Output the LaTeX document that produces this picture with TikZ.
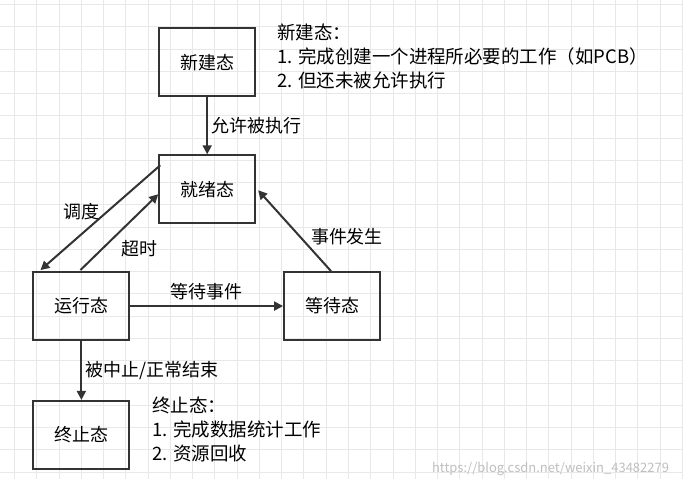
\documentclass[tikz,border=0pt]{standalone}
\usepackage{fontspec}
\setmainfont{Noto Sans CJK SC}
\usetikzlibrary{arrows.meta}
\begin{document}
\begin{tikzpicture}[x=1pt,y=-1pt,
  st/.style={draw=black!80,line width=2pt,minimum width=96pt,minimum height=68pt,font=\fontsize{18}{20}\selectfont},
  ar/.style={draw=black!80,line width=2pt,-{Triangle[length=9pt,width=9pt]}},
  lb/.style={font=\fontsize{18}{20}\selectfont,inner sep=1pt},
  nt/.style={font=\fontsize{18.5}{24}\selectfont,align=left,anchor=north west,inner sep=0pt}]
\fill[white] (0,0) rectangle (683,479);
\draw[black!9,line width=1pt,step=22.3pt,xshift=14pt,yshift=4pt] (-14,-4) grid (669,475);
\useasboundingbox (0,0) rectangle (683,479);
\node[st] (new) at (207,54) {新建态};
\node[st] (ready) at (207,181) {就绪态};
\node[st] (run) at (81,298) {运行态};
\node[st] (wait) at (332,298) {等待态};
\node[st] (end) at (81,427) {终止态};
\draw[ar] (new) -- (ready) node[lb,midway,right=2pt] {允许被执行};
\coordinate (a1) at (160,157);
\coordinate (a2) at (40,262);
\coordinate (b1) at (80,262);
\coordinate (b2) at (158,186);
\draw[ar] (a1) -- (a2);
\draw[ar] (b1) -- (b2);
\node[lb] (l1) at (81,203) {调度};
\node[lb] (l2) at (139,241) {超时};
\draw[ar] (run) -- (wait) node[lb,midway,above=4pt] {等待事件};
\coordinate (c1) at (331,263);
\coordinate (c2) at (258,182);
\draw[ar] (c1) -- (c2);
\node[lb] (l3) at (347,229) {事件发生};
\draw[ar] (run) -- (end) node[lb,midway,right=2pt] {被中止/正常结束};
\node[nt] (n1) at (277,15) {新建态：\\1. 完成创建一个进程所必要的工作（如PCB）\\2. 但还未被允许执行};
\node[nt] (n2) at (152,389) {终止态：\\1. 完成数据统计工作\\2. 资源回收};
\node[font=\fontsize{13}{14}\selectfont,text=black!25,anchor=east] (wm) at (673,461) {https://blog.csdn.net/weixin\_43482279};
\end{tikzpicture}
\end{document}
